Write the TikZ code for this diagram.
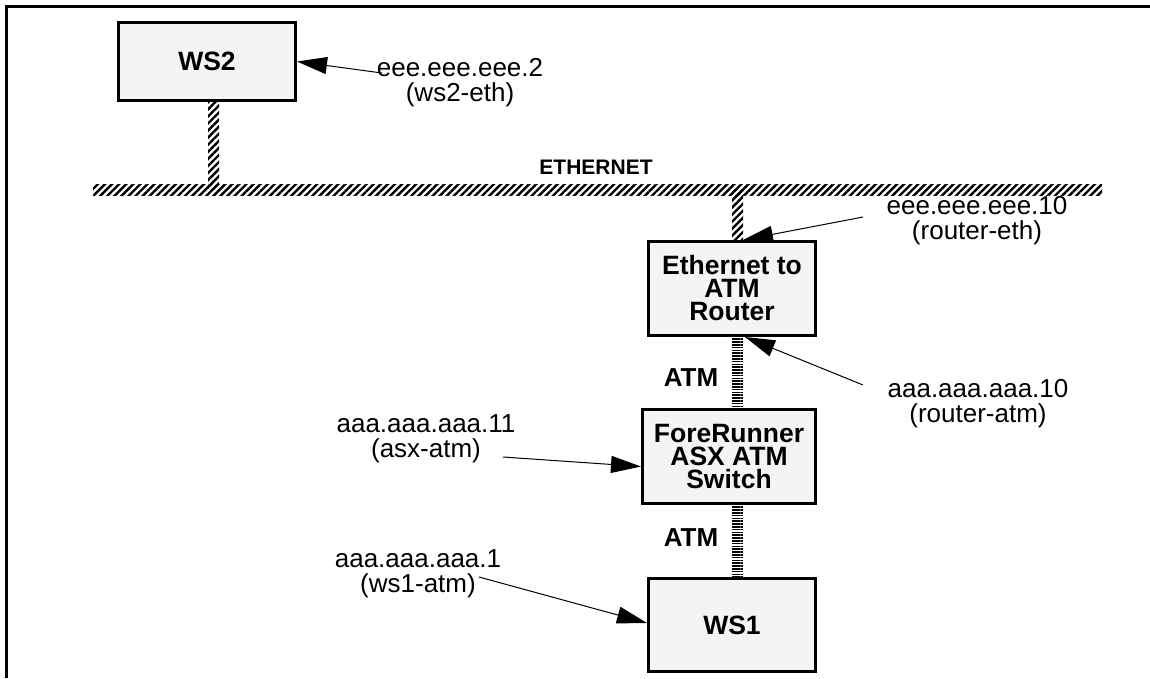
\documentclass[tikz,border=0pt]{standalone}
\usepackage{fontspec}
\setmainfont{Liberation Sans}
\usetikzlibrary{arrows.meta,patterns.meta,calc}
\definecolor{boxgray}{HTML}{F4F4F4}
\tikzset{
  netbox/.style={draw, line width=3pt, fill=boxgray, align=center, inner sep=0pt,
    font=\fontsize{26.5}{23}\selectfont\bfseries},
  addr/.style={align=center, inner sep=0pt, font=\fontsize{26}{25}\selectfont},
  netlabel/.style={inner sep=0pt, font=\fontsize{26}{26}\selectfont\bfseries},
  buslabel/.style={inner sep=0pt, font=\fontsize{21}{21}\selectfont\bfseries},
  ethhatch/.style={pattern={Lines[angle=45,distance=5pt,line width=2.4pt]}},
  atmhatch/.style={pattern={Lines[angle=0,distance=2.8pt,line width=1.5pt]}},
  ptr/.style={line width=1pt, -{Triangle[length=30pt,width=17pt]}},
  frame/.style={line width=3pt}
}
\begin{document}
\begin{tikzpicture}[x=1pt,y=-1pt]
\useasboundingbox (0,0) rectangle (1150,678);
\draw[frame] (6.5,678) -- (6.5,6.5) -- (1150,6.5);

% ethernet backbone
\node[ethhatch, minimum width=1009pt, minimum height=11pt, inner sep=0pt] (eth) at (597.5,189.5) {};
\node[buslabel] (ethlbl) at (596,167) {ETHERNET};

% boxes
\node[netbox, minimum width=177pt, minimum height=78pt] (ws2) at (207,61.5) {WS2};
\node[netbox, minimum width=167pt, minimum height=94pt] (router) at (732,288.5) {Ethernet to\\ATM\\Router};
\node[netbox, minimum width=173pt, minimum height=94pt] (switch) at (729,456.5) {ForeRunner\\ASX ATM\\Switch};
\node[netbox, minimum width=167pt, minimum height=93pt] (ws1) at (732,625) {WS1};

% links
\path[ethhatch] ([xshift=1pt]ws2.south) rectangle ([xshift=12pt]ws2.south |- eth.center);
\path[ethhatch] (router.north) rectangle ([xshift=11pt]router.north |- eth.center);
\path[atmhatch] (router.south) rectangle ([xshift=11pt]router.south |- switch.north);
\path[atmhatch] (ws1.north) rectangle ([xshift=11pt]ws1.north |- switch.south);

\node[netlabel] (atm1) at (691,378) {ATM};
\node[netlabel] (atm2) at (691,538) {ATM};

% address labels
\node[addr] (a2) at (460,83) {eee.eee.eee.2\\(ws2-eth)};
\node[addr] (a10e) at (977,221) {eee.eee.eee.10\\(router-eth)};
\node[addr] (a10a) at (978,404) {aaa.aaa.aaa.10\\(router-atm)};
\node[addr] (a11) at (426,439) {aaa.aaa.aaa.11\\(asx-atm)};
\node[addr] (a1) at (418,574) {aaa.aaa.aaa.1\\(ws1-atm)};

\coordinate (s2) at (382,73);
\coordinate (s10e) at (863,217);
\coordinate (s10a) at (863,385);
\coordinate (s11) at (503,457);
\coordinate (s1) at (479,577);

\draw[ptr] (s2) -- (ws2.east);
\draw[ptr] (s10e) -- ([xshift=11pt]router.north);
\draw[ptr] (s10a) -- ([xshift=13pt]router.south);
\draw[ptr] (s11) -- ($(switch.west)+(0,10)$);
\draw[ptr] (s1) -- ($(ws1.west)+(0,-2)$);
\end{tikzpicture}
\end{document}
